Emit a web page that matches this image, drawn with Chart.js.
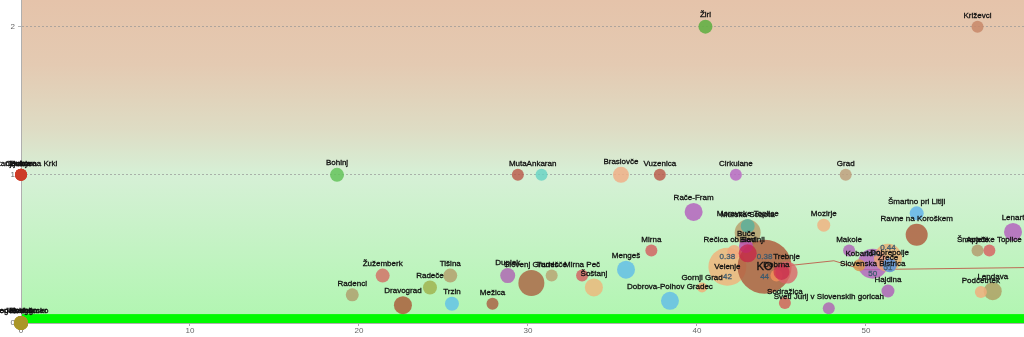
<!DOCTYPE html>
<html><head><meta charset="utf-8">
<script src="https://cdn.jsdelivr.net/npm/chart.js@4"></script>
<style>html,body{margin:0;padding:0;overflow:hidden;background:#fff}#wrap{width:1024px;height:337px;position:relative}</style>
</head><body><div id="wrap"><canvas id="c"></canvas></div>
<script>
const names = [
 "Kostanjevica na Krki","Dobje","Ljubno","Cankova",
 "Renče-Vogrsko","Log-Dragomer","Jezersko","Hodoš","Kostel",
 "Bohinj","Muta","Ankaran","Braslovče","Vuzenica","Cirkulane","Grad",
 "Žiri","Križevci",
 "Radenci","Žužemberk","Dravograd","Radeče","Tišina","Trzin","Mežica","Duplek",
 "Slovenj Gradec","Turnišče","Mirna Peč","Šoštanj","Mengeš","Mirna","Dobrova-Polhov Gradec",
 "Rače-Fram","Gornji Grad","Murska Sobota","Moravske Toplice","Velenje","Rečica ob Savinji",
 "KO","Buče","Bled","Dobrna","Trebnje","","Sodražica","Sveti Jurij v Slovenskih goricah",
 "Mozirje","Makole","Slovenska Bistrica","Kobarid","Zreče","Dobrepolje","Hajdina",
 "Šmartno pri Litiji","Ravne na Koroškem","Apače","Šmarješke Toplice","Lenart","Lendava","Podčetrtek"
];
const xValues = [
 0,0,0,0,
 0,0,0,0,0,
 18.7,29.4,30.8,35.5,37.8,42.3,48.8,
 40.5,56.6,
 19.6,21.4,22.6,24.2,25.4,25.5,27.9,28.8,
 30.2,31.4,33.2,33.9,35.8,37.3,38.4,
 39.8,40.3,43.0,43.0,41.8,42.2,
 44.0,42.9,43.0,44.7,45.3,45.0,45.2,47.8,
 47.5,49.0,50.4,49.6,51.3,51.4,51.3,
 53.0,53.0,56.6,57.3,58.7,57.5,56.8
];
const yValues = [
 1,1,1,1,
 0,0,0,0,0,
 1,1,1,1,1,1,1,
 2,2,
 0.19,0.32,0.12,0.24,0.32,0.13,0.13,0.32,
 0.27,0.32,0.32,0.24,0.36,0.49,0.15,
 0.75,0.24,0.61,0.655,0.38,0.48,
 0.38,0.52,0.47,0.32,0.34,0.345,0.135,0.10,
 0.66,0.49,0.40,0.39,0.44,0.39,0.216,
 0.74,0.595,0.49,0.49,0.615,0.215,0.21
];
const bubbleSize = [
 6,6,6,6,
 7,7,7,7,7,
 7,6,6,8,6,6,6,
 7,6,
 6.5,7,9,7,7,7,6,7.5,
 13,6,6,9,9,6,9,
 9,5,13,7,19,7,
 27,7,9,6,11,8,6,6,
 6.5,6,15,6,14,7,6.5,
 7,11,6,6,9,9,6
];
const trendX = [44, 48.1, 49.8, 60];
const trendY = [0.37, 0.42, 0.36, 0.375];
const xTicks = [0,10,20,30,40,50];
const yTicks = [0,1,2];

// styles (kept apart from the data)
const pointColors = [
 'rgba(205,60,40,0.9)','rgba(205,60,40,0.9)','rgba(205,60,40,0.9)','rgba(205,60,40,0.9)',
 'rgba(170,150,40,0.9)','rgba(170,150,40,0.9)','rgba(170,150,40,0.9)','rgba(170,150,40,0.9)','rgba(170,150,40,0.9)',
 'rgba(100,195,90,0.85)','rgba(185,85,70,0.8)','rgba(100,210,195,0.8)','rgba(240,175,135,0.85)','rgba(185,85,70,0.8)','rgba(185,105,195,0.85)','rgba(190,160,125,0.85)',
 'rgba(100,175,70,0.9)','rgba(200,135,105,0.85)',
 'rgba(175,160,110,0.85)','rgba(210,115,105,0.85)','rgba(170,95,60,0.85)','rgba(160,180,80,0.85)','rgba(180,160,110,0.85)','rgba(100,195,230,0.85)','rgba(170,100,70,0.85)','rgba(175,105,180,0.85)',
 'rgba(170,105,70,0.85)','rgba(185,165,115,0.85)','rgba(210,100,100,0.85)','rgba(235,185,125,0.85)','rgba(100,190,230,0.85)','rgba(210,100,100,0.85)','rgba(100,190,230,0.85)',
 'rgba(180,100,190,0.85)','rgba(240,175,120,0.85)','rgba(185,160,110,0.85)','rgba(90,175,155,0.85)','rgba(240,180,125,0.85)','rgba(240,170,125,0.85)',
 'rgba(175,95,65,0.85)','rgba(185,80,175,0.85)','rgba(200,30,70,0.7)','rgba(240,145,90,0.85)','rgba(220,100,105,0.8)','rgba(200,30,70,0.6)','rgba(210,100,90,0.85)','rgba(175,105,180,0.85)',
 'rgba(240,180,130,0.85)','rgba(175,105,185,0.85)','rgba(180,95,190,0.8)','rgba(215,150,80,0.85)','rgba(240,170,110,0.75)','rgba(90,150,225,0.85)','rgba(175,100,185,0.85)',
 'rgba(100,180,235,0.85)','rgba(175,95,65,0.85)','rgba(180,155,110,0.85)','rgba(215,100,100,0.85)','rgba(180,100,190,0.85)','rgba(175,160,100,0.85)','rgba(240,175,125,0.85)'
];

const FONT = '"Liberation Sans", Arial, sans-serif';

const bgPlugin = {
  id: 'bg',
  beforeDraw(chart) {
    const {ctx, chartArea: a, scales} = chart;
    ctx.save();
    const g = ctx.createLinearGradient(0, a.top, 0, a.bottom);
    g.addColorStop(0, 'rgb(229,195,170)');
    g.addColorStop(0.2, 'rgb(228,202,178)');
    g.addColorStop(0.4, 'rgb(222,220,196)');
    g.addColorStop(0.54, 'rgb(214,240,214)');
    g.addColorStop(1, 'rgb(176,246,176)');
    ctx.fillStyle = g;
    ctx.fillRect(a.left, a.top, a.right - a.left, a.bottom - a.top);
    const y0 = scales.y.getPixelForValue(0), y1 = scales.y.getPixelForValue(0.06);
    ctx.fillStyle = 'rgb(0,250,0)';
    ctx.fillRect(a.left, y1, a.right - a.left, y0 - y1);
    ctx.restore();
  }
};

function drawText(ctx, t, x, y, color) {
  ctx.fillStyle = color;
  ctx.strokeStyle = color;
  ctx.lineWidth = 0.3;
  ctx.fillText(t, x, y);
  ctx.strokeText(t, x, y);
}

const labelPlugin = {
  id: 'lbl',
  afterDatasetsDraw(chart) {
    const ctx = chart.ctx;
    const meta = chart.getDatasetMeta(1);
    ctx.save();
    ctx.textAlign = 'center';
    meta.data.forEach((el, i) => {
      const name = names[i];
      if (!name) return;
      const r = el.options.radius;
      if (r >= 14) {
        ctx.textBaseline = 'middle';
        ctx.font = '8px ' + FONT;
        drawText(ctx, yValues[i].toFixed(2), el.x, el.y - 10, 'rgba(60,90,110,0.95)');
        drawText(ctx, String(Math.round(xValues[i])), el.x, el.y + 10, 'rgba(60,90,110,0.95)');
        ctx.font = Math.max(8, r * 0.42).toFixed(1) + 'px ' + FONT;
        drawText(ctx, name, el.x, el.y, '#111');
      } else {
        ctx.textBaseline = 'bottom';
        ctx.font = '8px ' + FONT;
        drawText(ctx, name, el.x, el.y - r - 1, '#111');
      }
    });
    ctx.restore();
  }
};

new Chart(document.getElementById('c'), {
  data: {
    datasets: [
      {
        type: 'line',
        order: 2,
        data: trendX.map((x, i) => ({x, y: trendY[i]})),
        borderColor: 'rgba(190,100,80,0.95)',
        borderWidth: 1,
        pointRadius: 0,
        fill: false,
        tension: 0
      },
      {
        type: 'bubble',
        order: 1,
        clip: false,
        data: names.map((n, i) => ({x: xValues[i], y: yValues[i], r: bubbleSize[i]})),
        backgroundColor: pointColors,
        borderWidth: 0,
        hoverRadius: 0
      }
    ]
  },
  options: {
    responsive: true,
    maintainAspectRatio: false,
    animation: false,
    devicePixelRatio: 1,
    layout: {padding: 0, autoPadding: false},
    plugins: {legend: {display: false}, tooltip: {enabled: false}},
    scales: {
      x: {
        type: 'linear', min: 0, max: 59.35,
        afterBuildTicks(s) { s.ticks = xTicks.map(v => ({value: v})); },
        afterFit(s) { s.height = 14; s.paddingLeft = 0; s.paddingRight = 0; },
        grid: {drawOnChartArea: false, tickLength: 3, color: 'rgba(150,150,150,0.8)'},
        border: {color: 'rgb(175,175,175)'},
        ticks: {padding: 0, font: {size: 8, family: FONT}, color: '#666', maxRotation: 0}
      },
      y: {
        type: 'linear', min: 0, max: 2.18,
        afterBuildTicks(s) { s.ticks = yTicks.map(v => ({value: v})); },
        afterFit(s) { s.width = 21; s.paddingTop = 0; s.paddingBottom = 0; },
        grid: {tickLength: 3, color: 'rgba(150,150,150,0.7)'},
        border: {color: 'rgb(175,175,175)', dash: [2, 2]},
        ticks: {padding: 3, font: {size: 8, family: FONT}, color: '#666'}
      }
    }
  },
  plugins: [bgPlugin, labelPlugin]
});
</script>
</body></html>
